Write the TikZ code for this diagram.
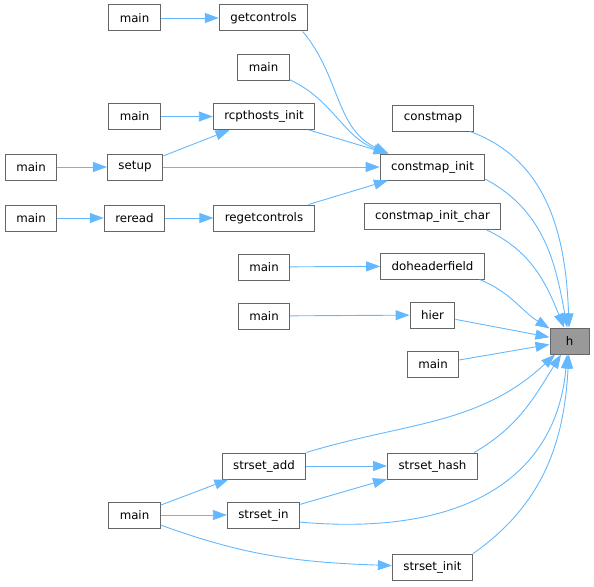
\documentclass[tikz,border=0pt]{standalone}
\usepackage{fontspec}
\setmainfont{DejaVu Sans}
\usepackage{tikz}
\usetikzlibrary{arrows.meta}
\definecolor{edgeblue}{HTML}{63B8FF}
\definecolor{boxline}{HTML}{666666}
\definecolor{hitfill}{HTML}{999999}
\tikzstyle{fnbox} = [draw=boxline, line width=1pt, fill=white, minimum height=26pt, minimum width=39pt, inner xsep=11pt, inner ysep=0pt, font=\fontsize{11.8}{14}\selectfont]
\tikzstyle{call} = [draw=edgeblue, line width=0.9pt, -{Triangle[length=14pt, width=10pt]}]

\begin{document}
\begin{tikzpicture}[x=1pt, y=1pt]
  \useasboundingbox (0,0) rectangle (594,-586);
  % callers of h, left to right
  \node[fnbox] (mA) at (134.5,-18) {main};
  \node[fnbox] (gc) at (263.5,-18) {getcontrols};
  \node[fnbox] (mB) at (263.5,-67.5) {main};
  \node[fnbox] (cm) at (433,-118) {constmap};
  \node[fnbox] (mC) at (134.5,-116.5) {main};
  \node[fnbox] (rh) at (264,-116.5) {rcpthosts\_init};
  \node[fnbox] (mD) at (31,-167) {main};
  \node[fnbox] (su) at (135,-167) {setup};
  \node[fnbox] (ci) at (432.5,-167) {constmap\_init};
  \node[fnbox] (mE) at (31,-218) {main};
  \node[fnbox] (rr) at (134.5,-218) {reread};
  \node[fnbox] (rg) at (264,-218) {regetcontrols};
  \node[fnbox] (cc) at (432.5,-216.5) {constmap\_init\_char};
  \node[fnbox] (mF) at (264,-267) {main};
  \node[fnbox] (dh) at (432.5,-266) {doheaderfield};
  \node[fnbox] (mG) at (264,-316) {main};
  \node[fnbox] (hi) at (432.5,-315) {hier};
  \node[fnbox, fill=hitfill] (h) at (569.5,-341) {h};
  \node[fnbox] (mH) at (433,-364.5) {main};
  \node[fnbox] (sa) at (264,-466) {strset\_add};
  \node[fnbox] (sh) at (432.5,-466) {strset\_hash};
  \node[fnbox] (mI) at (134.5,-515) {main};
  \node[fnbox] (si) at (263.5,-515) {strset\_in};
  \node[fnbox] (sn) at (432.5,-567) {strset\_init};

  % calls
  \draw[call] (mA) -- (gc);
  \draw[call] (mC) -- (rh);
  \draw[call] (mD) -- (su);
  \draw[call] (mE) -- (rr);
  \draw[call] (rr) -- (rg);
  \draw[call] (su) -- (rh);
  \draw[call] (gc.-19) to[out=-50, in=155] (ci.163);
  \draw[call] (mB) to[out=-25, in=160] (ci.163);
  \draw[call] (rh) -- (ci);
  \draw[call] (su) -- (ci);
  \draw[call] (rg) -- (ci);
  \draw[call] (mF) -- (dh);
  \draw[call] (mG) -- (hi);
  \draw[call] (cm) to[out=-20, in=92] (h);
  \draw[call] (ci.-13) to[out=-28, in=100] (h);
  \draw[call] (cc.-14) to[out=-25, in=112] (h);
  \draw[call] (dh.-16) to[out=-22, in=148] (h);
  \draw[call] (hi) -- (h);
  \draw[call] (mH) -- (h);
  \draw[call] (sa.north east) to[out=17, in=-137] (h);
  \draw[call] (sh.18) to[out=30, in=-122] (h);
  \draw[call] (si.-11) .. controls +(-5:170) and +(-95:120) .. (h.-100);
  \draw[call] (sn.north east) to[out=35, in=-93] (h);
  \draw[call] (mI) -- (sa);
  \draw[call] (mI) -- (si);
  \draw[call] (mI.-21) to[out=-20, in=178] (sn);
  \draw[call] (sa) -- (sh);
  \draw[call] (si) -- (sh);
\end{tikzpicture}
\end{document}
